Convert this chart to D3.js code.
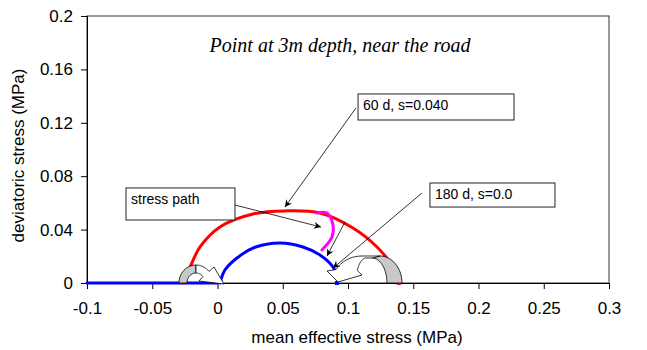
<!DOCTYPE html>
<html>
<head>
<meta charset="utf-8">
<script src="https://cdn.jsdelivr.net/npm/d3@7/dist/d3.min.js"></script>
<style>
  html, body { margin: 0; padding: 0; background: #fff; }
  svg { display: block; }
  text { font-family: "Liberation Sans", Arial, sans-serif; fill: #000; }
</style>
</head>
<body>
<svg id="chart" width="647" height="350"></svg>
<script>
// Axis ticks
const pTicks = [-0.1, -0.05, 0, 0.05, 0.1, 0.15, 0.2, 0.25, 0.3];
const pTickLabels = ["-0.1", "-0.05", "0", "0.05", "0.1", "0.15", "0.2", "0.25", "0.3"];
const qTicks = [0, 0.04, 0.08, 0.12, 0.16, 0.2];
const qTickLabels = ["0", "0.04", "0.08", "0.12", "0.16", "0.2"];

// Initial state along the p axis
const initialP = [-0.1, 0.0];
const initialQ = [0, 0];

// Yield locus at 60 days (s = 0.040)
const yield60P = [-0.027, -0.021, -0.0134, 0.0019, 0.0272, 0.0517, 0.0785, 0.1038, 0.1222, 0.1345, 0.139];
const yield60Q = [0.0, 0.012, 0.027, 0.042, 0.0517, 0.054, 0.0524, 0.0412, 0.027, 0.012, 0.001];

// Yield locus at 180 days (s = 0.0)
const yield180P = [0.002, 0.0057, 0.0149, 0.0272, 0.0479, 0.0655, 0.0785, 0.0885, 0.0916];
const yield180Q = [0.0, 0.0097, 0.0187, 0.0262, 0.030, 0.027, 0.021, 0.012, 0.004];

// Stress path between the two states
const pathP = [0.0762, 0.0839, 0.0885, 0.0877, 0.080];
const pathQ = [0.0524, 0.0524, 0.0434, 0.0345, 0.0247];

// End points on the p axis
const endP = [0.139, 0.0916];
const endQ = [0, 0];
const endColors = ["#ff0000", "#0000ff"];

const svg = d3.select("#chart");
const W = 647, H = 350;
const m = { left: 87, right: 38, top: 16, bottom: 67 };

const x = d3.scaleLinear().domain([-0.1, 0.3]).range([m.left, W - m.right]);
const y = d3.scaleLinear().domain([0, 0.2]).range([H - m.bottom, m.top]);

// Plot frame
svg.append("rect")
  .attr("x", x(-0.1)).attr("y", y(0.2))
  .attr("width", x(0.3) - x(-0.1)).attr("height", y(0) - y(0.2))
  .attr("fill", "none").attr("stroke", "#333").attr("stroke-width", 1);

// Axes
const xAxis = d3.axisBottom(x).tickValues(pTicks).tickSize(6).tickPadding(13)
  .tickFormat((d, i) => pTickLabels[i]);
const yAxis = d3.axisLeft(y).tickValues(qTicks).tickSize(6).tickPadding(8)
  .tickFormat((d, i) => qTickLabels[i]);

const gx = svg.append("g").attr("transform", `translate(0,${y(0)})`).call(xAxis);
const gy = svg.append("g").attr("transform", `translate(${x(-0.1)},0)`).call(yAxis);
[gx, gy].forEach(g => {
  g.select(".domain").attr("stroke", "#000");
  g.selectAll(".tick line").attr("stroke", "#000");
  g.selectAll(".tick text").style("font-size", "17px").style("font-family", "Liberation Sans, Arial, sans-serif");
});

// Axis titles
svg.append("text")
  .attr("x", 357).attr("y", 343)
  .attr("text-anchor", "middle").style("font-size", "17px")
  .text("mean effective stress (MPa)");
svg.append("text")
  .attr("transform", `translate(24,${(y(0) + y(0.2)) / 2 + 6}) rotate(-90)`)
  .attr("text-anchor", "middle").style("font-size", "17px")
  .text("deviatoric stress (MPa)");

// Chart title
svg.append("text")
  .attr("x", 340).attr("y", 52)
  .attr("text-anchor", "middle")
  .style("font-family", "Liberation Serif, Times New Roman, serif")
  .style("font-style", "italic").style("font-size", "20px")
  .text("Point at 3m depth, near the road");

// Lines
const line = d3.line().x(d => x(d[0])).y(d => y(d[1])).curve(d3.curveCatmullRom.alpha(0.5));
const zip = (a, b) => a.map((v, i) => [v, b[i]]);

const series = [
  { p: initialP, q: initialQ, color: "#0000ff" },
  { p: yield60P, q: yield60Q, color: "#ff0000" },
  { p: yield180P, q: yield180Q, color: "#0000ff" },
  { p: pathP, q: pathQ, color: "#ff00ff" }
];
svg.append("g").selectAll("path").data(series).join("path")
  .attr("d", s => line(zip(s.p, s.q)))
  .attr("fill", "none").attr("stroke", s => s.color)
  .attr("stroke-width", 3).attr("stroke-linecap", "round");

svg.append("g").selectAll("rect").data(zip(endP, endQ)).join("rect")
  .attr("x", d => x(d[0]) - 2).attr("y", d => y(d[1]) - 2)
  .attr("width", 4).attr("height", 4)
  .attr("fill", (d, i) => endColors[i]);

// Curved block arrows
function ellipsePts(cx, cy, rx, ry, a0, a1, n = 16) {
  const pts = [];
  for (let k = 0; k <= n; k++) {
    const a = (a0 + (a1 - a0) * k / n) * Math.PI / 180;
    pts.push([cx + rx * Math.cos(a), cy - ry * Math.sin(a)]);
  }
  return pts;
}
const poly = pts => "M" + pts.map(p => p[0].toFixed(2) + "," + p[1].toFixed(2)).join("L") + "Z";
const arrows = svg.append("g").attr("stroke", "#000").attr("stroke-width", 0.8).attr("stroke-linejoin", "miter");

// Left arrow: the low-p end of the 60-day locus moves onto the 180-day locus
{
  const cx = x(-0.0165), cy = y(0);
  const back = ellipsePts(cx, cy, 17, 18, 180, 90).concat(ellipsePts(cx, cy, 9, 10, 90, 180));
  arrows.append("path").attr("d", poly(back)).attr("fill", "#c8c8c8");
  const outer = ellipsePts(cx, cy, 17, 18, 90, 40);
  const head = [[cx + 18, cy - 16], [cx + 28, cy + 1], [cx + 3, cy - 2]];
  const inner = ellipsePts(cx, cy, 9, 10, 40, 90);
  arrows.append("path").attr("d", poly(outer.concat(head, inner))).attr("fill", "#fff");
}

// Right arrow: the high-p end of the 60-day locus moves onto the 180-day locus
{
  const cx = x(0.1245), cy = y(0);
  const back = ellipsePts(cx, cy, 22, 27, 0, 90).concat(ellipsePts(cx - 8, cy, 15, 25, 90, 0));
  arrows.append("path").attr("d", poly(back)).attr("fill", "#c8c8c8");
  const outer = [[cx, cy - 27]].concat(ellipsePts(cx - 18, cy, 30, 27, 90, 150));
  const head = [[cx - 53, cy - 12], [cx - 42, cy - 1], [cx - 18, cy - 8]];
  const inner = ellipsePts(cx - 14, cy, 10, 25, 150, 90).concat([[cx - 8, cy - 25]]);
  arrows.append("path").attr("d", poly(outer.concat(head, inner))).attr("fill", "#fff");
}

// Callout boxes
const boxes = [
  { p0: 0.1077, p1: 0.2272, q0: 0.1416, q1: 0.1221, text: "60 d, s=0.040" },
  { p0: 0.1628, p1: 0.2586, q0: 0.0749, q1: 0.0569, text: "180 d, s=0.0" },
  { p0: -0.0701, p1: 0.0134, q0: 0.0712, q1: 0.0472, text: "stress path" }
];
const bg = svg.append("g");
boxes.forEach(b => {
  bg.append("rect")
    .attr("x", x(b.p0)).attr("y", y(b.q0))
    .attr("width", x(b.p1) - x(b.p0)).attr("height", y(b.q1) - y(b.q0))
    .attr("fill", "#fff").attr("stroke", "#222").attr("stroke-width", 1);
  bg.append("text")
    .attr("x", x(b.p0) + 5).attr("y", y(b.q0) + 16)
    .style("font-size", "14px").text(b.text);
});

// Pointer arrows
svg.append("defs").append("marker")
  .attr("id", "tip").attr("viewBox", "0 0 10 10")
  .attr("refX", 10).attr("refY", 5)
  .attr("markerWidth", 9).attr("markerHeight", 7)
  .attr("markerUnits", "userSpaceOnUse")
  .attr("orient", "auto")
  .append("path").attr("d", "M0,0L10,5L0,10L3,5Z").attr("fill", "#000");

const pointers = [
  [0.1061, 0.1311, 0.0517, 0.0569],
  [0.1567, 0.0674, 0.0885, 0.0112],
  [0.0134, 0.0584, 0.0793, 0.0419],
  [0.0977, 0.0457, 0.0839, 0.0202]
];
svg.append("g").selectAll("line").data(pointers).join("line")
  .attr("x1", d => x(d[0])).attr("y1", d => y(d[1]))
  .attr("x2", d => x(d[2])).attr("y2", d => y(d[3]))
  .attr("stroke", "#000").attr("stroke-width", 0.8)
  .attr("marker-end", "url(#tip)");
</script>
</body>
</html>
